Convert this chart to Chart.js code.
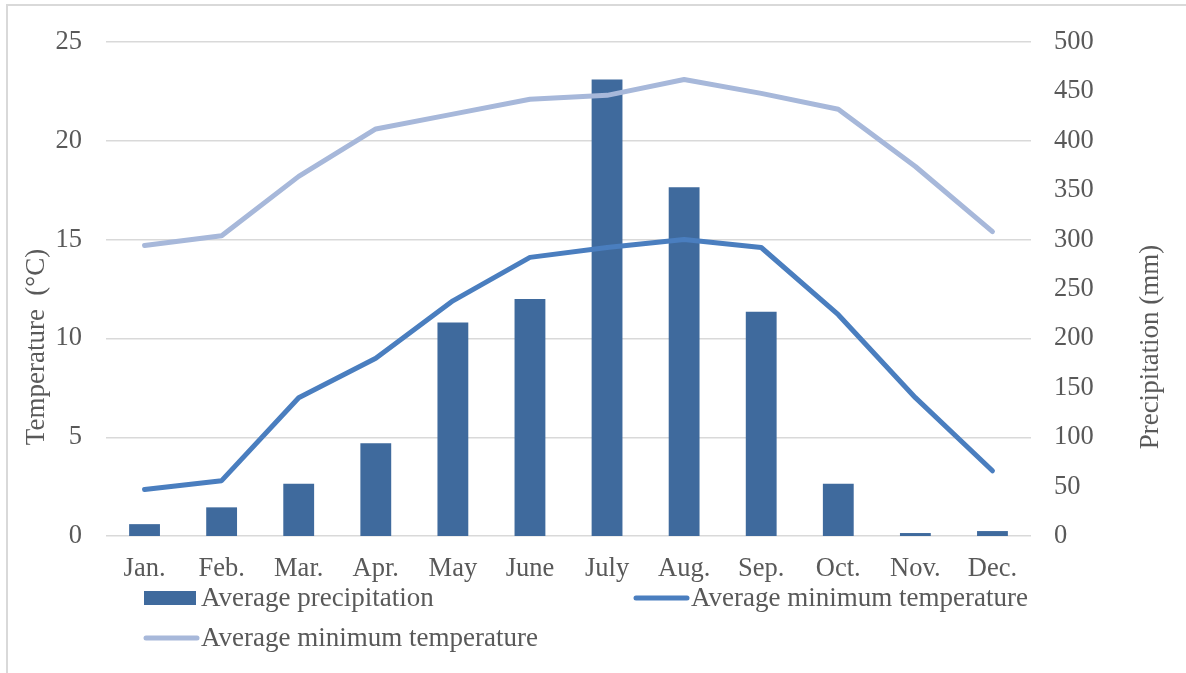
<!DOCTYPE html>
<html>
<head>
<meta charset="utf-8">
<script src="https://cdn.jsdelivr.net/npm/chart.js@4/dist/chart.umd.min.js"></script>
<style>
  html, body { margin: 0; padding: 0; background: #ffffff; overflow: hidden; }
  #frame { position: absolute; left: 6px; top: 4px; width: 1200px; height: 700px;
           border-left: 2px solid #d9d9d9; border-top: 2px solid #d9d9d9; }
  #wrap { position: absolute; left: 0; top: 0; width: 1186px; height: 673px; }
</style>
</head>
<body>
<div id="frame"></div>
<div id="wrap"><canvas id="c" width="1186" height="673"></canvas></div>
<script>
// Monthly climate data
const months = ['Jan.', 'Feb.', 'Mar.', 'Apr.', 'May', 'June', 'July', 'Aug.', 'Sep.', 'Oct.', 'Nov.', 'Dec.'];
const precipitation = [12, 29, 53, 94, 216, 240, 462, 353, 227, 53, 3, 5];        // mm
const minTemperature = [2.35, 2.8, 7.0, 9.0, 11.9, 14.1, 14.6, 15.0, 14.6, 11.2, 7.0, 3.3]; // °C
const upperTemperature = [14.7, 15.2, 18.2, 20.6, 21.35, 22.1, 22.3, 23.1, 22.4, 21.6, 18.7, 15.4]; // °C
const tempTicks = [0, 5, 10, 15, 20, 25];
const precipTicks = [0, 50, 100, 150, 200, 250, 300, 350, 400, 450, 500];

const FONT = 'Liberation Serif, "Times New Roman", serif';
const TEXT = '#595959';

// Legend laid out in two columns below the axis, plus both vertical axis titles
const sideDecor = {
  id: 'sideDecor',
  afterDraw(chart) {
    const ctx = chart.ctx;
    const area = chart.chartArea;
    const ds = chart.data.datasets;
    ctx.save();
    ctx.font = '27px ' + FONT;
    ctx.fillStyle = TEXT;
    ctx.textBaseline = 'middle';
    ctx.textAlign = 'left';
    const slots = [
      { x: area.left + 38, y: 598 },
      { x: area.left + 528, y: 598 },
      { x: area.left + 38, y: 638 }
    ];
    ds.forEach((d, i) => {
      const s = slots[i];
      if (d.type === 'bar') {
        ctx.fillStyle = d.backgroundColor;
        ctx.fillRect(s.x, s.y - 7, 52, 14);
      } else {
        ctx.strokeStyle = d.borderColor;
        ctx.lineWidth = 5;
        ctx.lineCap = 'round';
        ctx.beginPath();
        ctx.moveTo(s.x + 2, s.y);
        ctx.lineTo(s.x + 53, s.y);
        ctx.stroke();
      }
      ctx.fillStyle = TEXT;
      ctx.fillText(d.label, s.x + 57, s.y + 1);
    });

    // Vertical axis titles, both reading bottom to top
    const midY = (area.top + 652) / 2;
    ctx.font = '27px ' + FONT;
    ctx.textAlign = 'center';
    ctx.textBaseline = 'middle';
    [[37, 'Temperature  (°C)'], [1151, 'Precipitation (mm)']].forEach(([x, t]) => {
      ctx.save();
      ctx.translate(x, midY);
      ctx.rotate(-Math.PI / 2);
      ctx.fillText(t, 0, 0);
      ctx.restore();
    });
    ctx.restore();
  }
};

new Chart(document.getElementById('c'), {
  data: {
    labels: months,
    datasets: [
      {
        type: 'bar',
        label: 'Average precipitation',
        data: precipitation,
        yAxisID: 'yP',
        backgroundColor: '#3f6a9d',
        borderWidth: 0,
        categoryPercentage: 1,
        barPercentage: 0.4,
        order: 3
      },
      {
        type: 'line',
        label: 'Average minimum temperature',
        data: minTemperature,
        yAxisID: 'yT',
        borderColor: '#4a7ebf',
        backgroundColor: '#4a7ebf',
        borderWidth: 5,
        borderCapStyle: 'round',
        borderJoinStyle: 'round',
        pointRadius: 0,
        tension: 0,
        order: 2
      },
      {
        type: 'line',
        label: 'Average minimum temperature',
        data: upperTemperature,
        yAxisID: 'yT',
        borderColor: '#a7b8da',
        backgroundColor: '#a7b8da',
        borderWidth: 5,
        borderCapStyle: 'round',
        borderJoinStyle: 'round',
        pointRadius: 0,
        tension: 0,
        order: 1
      }
    ]
  },
  options: {
    responsive: false,
    animation: false,
    events: [],
    layout: { padding: { left: 0, right: 0, top: 42, bottom: 87 } },
    plugins: {
      legend: { display: false },
      tooltip: { enabled: false }
    },
    scales: {
      x: {
        grid: { display: false, drawTicks: false, tickLength: 0 },
        border: { display: false },
        ticks: { color: TEXT, font: { family: FONT, size: 26.5 }, padding: 17, maxRotation: 0 },
        afterFit(s) { s.height = 50; }
      },
      yT: {
        position: 'left',
        min: 0,
        max: 25,
        afterBuildTicks(s) { s.ticks = tempTicks.map(v => ({ value: v })); },
        grid: { color: '#d9d9d9', lineWidth: 1.4, drawTicks: false, tickLength: 0 },
        border: { display: false },
        ticks: { color: TEXT, font: { family: FONT, size: 26.5 }, padding: 24 },
        afterFit(s) { s.width = 106; }
      },
      yP: {
        position: 'right',
        min: 0,
        max: 500,
        afterBuildTicks(s) { s.ticks = precipTicks.map(v => ({ value: v })); },
        grid: { display: false, drawTicks: false, tickLength: 0 },
        border: { display: false },
        ticks: { color: TEXT, font: { family: FONT, size: 26.5 }, padding: 23 },
        afterFit(s) { s.width = 155; }
      }
    }
  },
  plugins: [sideDecor]
});
</script>
</body>
</html>
